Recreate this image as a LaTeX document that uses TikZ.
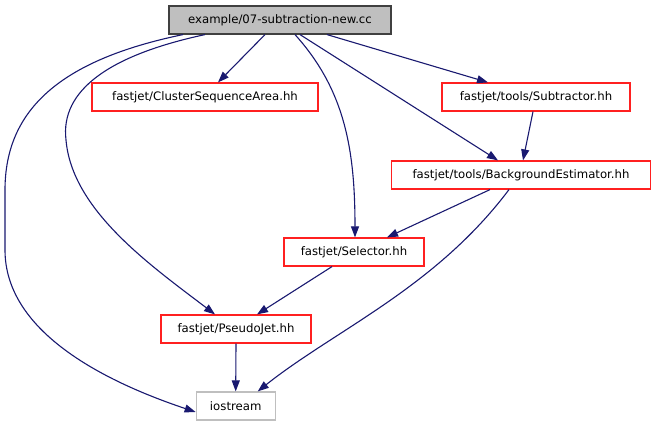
\documentclass[tikz,border=0pt]{standalone}
\usepackage{fontspec}
\setmainfont{DejaVu Sans}
\usetikzlibrary{arrows.meta}
\definecolor{edgeblue}{HTML}{191970}
\definecolor{rootfill}{HTML}{BFBFBF}
\definecolor{rootdraw}{HTML}{404040}
\definecolor{boxred}{HTML}{FF2020}
\definecolor{grayline}{HTML}{BFBFBF}
\tikzset{
  filebox/.style={draw=boxred, line width=1.2pt, minimum height=28pt, inner sep=0pt, font=\fontsize{11.7pt}{13pt}\selectfont, text=black},
  rootbox/.style={filebox, draw=rootdraw, fill=rootfill},
  sysbox/.style={filebox, draw=grayline},
  dep/.style={draw=edgeblue, line width=1.1pt, -{Triangle[length=11pt,width=8pt]}, fill=none},
}
\begin{document}
\begin{tikzpicture}[x=1pt,y=-1pt]
\useasboundingbox (0,0) rectangle (656,427);
\node[rootbox, minimum width=222pt] (root) at (280,20) {example/07-subtraction-new.cc};
\node[filebox, minimum width=226pt] (csa) at (205,97) {fastjet/ClusterSequenceArea.hh};
\node[filebox, minimum width=188pt] (sub) at (536,97) {fastjet/tools/Subtractor.hh};
\node[filebox, minimum width=259pt] (be) at (521,175) {fastjet/tools/BackgroundEstimator.hh};
\node[filebox, minimum width=140pt] (sel) at (354,252) {fastjet/Selector.hh};
\node[filebox, minimum width=150pt] (pj) at (236,329) {fastjet/PseudoJet.hh};
\node[sysbox, minimum width=79pt] (ios) at (235.7,406) {iostream};
\draw[dep] ([xshift=-15pt]root.south) -- ([xshift=13pt]csa.north);
\draw[dep] ([xshift=47pt]root.south) -- ([xshift=-48pt]sub.north);
\draw[dep] ([xshift=20pt]root.south) -- ([xshift=-23pt]be.north);
\draw[dep] ([xshift=15pt]root.south) .. controls (345,90) and (355,150) .. ([xshift=1pt]sel.north);
\draw[dep] ([xshift=-75pt]root.south) .. controls (110,55) and (60,90) .. (66,140) .. controls (72,210) and (150,265) .. ([xshift=-21pt]pj.north);
\draw[dep] ([xshift=-97pt]root.south) .. controls (60,60) and (5,110) .. (5,190) -- (5,250) .. controls (5,330) and (100,380) .. ([yshift=-6pt]ios.west);
\draw[dep] ([xshift=-3pt]sub.south) -- ([xshift=2pt]be.north);
\draw[dep] ([xshift=-31pt]be.south) -- ([xshift=33pt]sel.north);
\draw[dep] ([xshift=-12pt]be.south) .. controls (435,288) and (335,330) .. ([xshift=22pt]ios.north);
\draw[dep] ([xshift=-22pt]sel.south) -- ([xshift=21pt]pj.north);
\draw[dep] (pj.south) -- (ios.north);
\end{tikzpicture}
\end{document}
